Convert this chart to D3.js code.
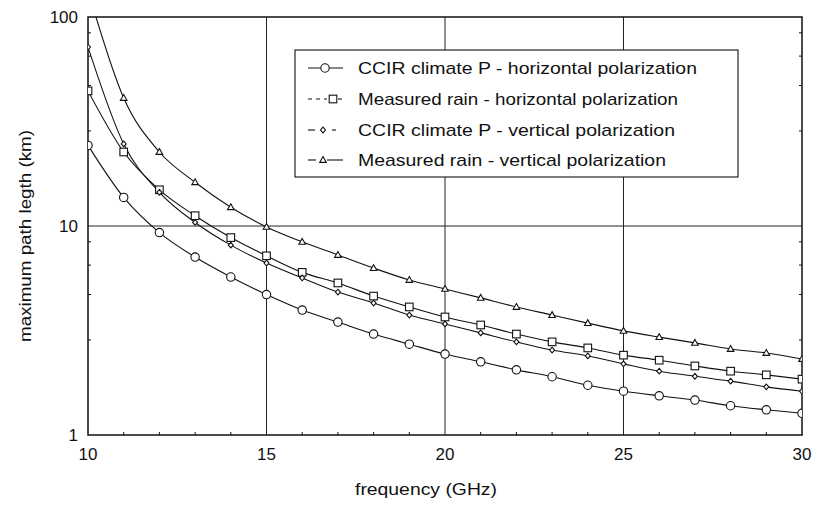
<!DOCTYPE html>
<html>
<head>
<meta charset="utf-8">
<script src="https://cdn.jsdelivr.net/npm/d3@7/dist/d3.min.js"></script>
<style>
  html, body { margin: 0; padding: 0; background: #fff; }
  text { font-family: "Liberation Sans", Arial, sans-serif; fill: #111; }
</style>
</head>
<body>
<svg id="chart" width="814" height="505"></svg>
<script>
// ---- data ----
const freq = [10,11,12,13,14,15,16,17,18,19,20,21,22,23,24,25,26,27,28,29,30];
const ccirH = [24.3,13.7,9.3,7.1,5.7,4.7,3.96,3.47,3.04,2.72,2.44,2.24,2.05,1.90,1.73,1.62,1.54,1.47,1.38,1.32,1.27];
const measH = [44.3,22.6,14.9,11.2,8.8,7.2,6.0,5.34,4.62,4.10,3.67,3.36,3.04,2.79,2.61,2.41,2.28,2.14,2.02,1.94,1.85];
const ccirV = [71.8,24.7,14.5,10.4,8.1,6.65,5.64,4.83,4.28,3.75,3.40,3.08,2.79,2.55,2.39,2.19,2.02,1.91,1.81,1.70,1.62];
const measV = [134,41,22.6,16.2,12.3,9.9,8.4,7.27,6.29,5.52,5.0,4.53,4.10,3.75,3.43,3.15,2.94,2.76,2.58,2.47,2.31];
const seriesNames = [
  "CCIR climate P - horizontal polarization",
  "Measured rain - horizontal polarization",
  "CCIR climate P - vertical polarization",
  "Measured rain - vertical polarization"
];
const xTicks = [10,15,20,25,30];
const xMinor = [11,12,13,14,16,17,18,19,21,22,23,24,26,27,28,29];
const yTicks = [1,10,100];
const yTickLabels = ["1","10","100"];
const yMinor = [2.85,4.7,6.5,8.4,28.5,47,65,84];
const xGrid = [15,20,25];
const yGrid = [10];
const xTitle = "frequency (GHz)";
const yTitle = "maximum path legth (km)";

// ---- layout ----
const svg = d3.select("#chart");
const L = 88, R = 802, T = 17, B = 435;
const x = d3.scaleLinear().domain([10,30]).range([L,R]);
const y = d3.scaleLog().domain([1,100]).range([B,T]);

svg.append("defs").append("clipPath").attr("id","clip")
  .append("rect").attr("x",L).attr("y",T).attr("width",R-L).attr("height",B-T);

// grid
svg.append("g").selectAll("line").data(xGrid).join("line")
  .attr("x1",d=>x(d)).attr("x2",d=>x(d)).attr("y1",T).attr("y2",B)
  .attr("stroke","#222").attr("stroke-width",1);
svg.append("g").selectAll("line").data(yGrid).join("line")
  .attr("x1",L).attr("x2",R).attr("y1",d=>y(d)).attr("y2",d=>y(d))
  .attr("stroke","#222").attr("stroke-width",1);

// minor ticks
svg.append("g").selectAll("line").data(xMinor).join("line")
  .attr("x1",d=>x(d)).attr("x2",d=>x(d)).attr("y1",B).attr("y2",B-3)
  .attr("stroke","#111").attr("stroke-width",1);
const ym = svg.append("g");
ym.selectAll("line.l").data(yMinor).join("line").attr("class","l")
  .attr("x1",L).attr("x2",L+3).attr("y1",d=>y(d)).attr("y2",d=>y(d))
  .attr("stroke","#111").attr("stroke-width",1);
ym.selectAll("line.r").data(yMinor).join("line").attr("class","r")
  .attr("x1",R-3).attr("x2",R).attr("y1",d=>y(d)).attr("y2",d=>y(d))
  .attr("stroke","#111").attr("stroke-width",1);

// frame
svg.append("rect").attr("x",L).attr("y",T).attr("width",R-L).attr("height",B-T)
  .attr("fill","none").attr("stroke","#111").attr("stroke-width",1.5);

// tick labels
svg.append("g").selectAll("text").data(xTicks).join("text")
  .attr("x",d=>x(d)).attr("y",460).attr("text-anchor","middle")
  .attr("font-size",17).text(d=>d);
svg.append("g").selectAll("text").data(yTicks).join("text")
  .attr("x",78).attr("y",d=>y(d)).attr("dy","0.36em").attr("text-anchor","end")
  .attr("font-size",17).text((d,i)=>yTickLabels[i]);

// axis titles
svg.append("text").attr("x",426).attr("y",495).attr("text-anchor","middle")
  .attr("font-size",17).attr("textLength",142).attr("lengthAdjust","spacingAndGlyphs")
  .text(xTitle);
svg.append("text").attr("transform","translate(31,236) rotate(-90)")
  .attr("text-anchor","middle").attr("font-size",17)
  .attr("textLength",212).attr("lengthAdjust","spacingAndGlyphs")
  .text(yTitle);

// series
const allSeries = [ccirH, measH, ccirV, measV];
const markers = ["circle","square","diamond","triangle"];
const line = d3.line().x((d,i)=>x(freq[i])).y(d=>y(d)).curve(d3.curveMonotoneX);
const plot = svg.append("g").attr("clip-path","url(#clip)");

function drawMarker(g, type, cx, cy) {
  if (type === "circle") {
    g.append("circle").attr("cx",cx).attr("cy",cy).attr("r",4.2)
      .attr("fill","#fff").attr("stroke","#111").attr("stroke-width",1.1);
  } else if (type === "square") {
    g.append("rect").attr("x",cx-3.8).attr("y",cy-3.8).attr("width",7.6).attr("height",7.6)
      .attr("fill","#fff").attr("stroke","#111").attr("stroke-width",1.1);
  } else if (type === "diamond") {
    g.append("path").attr("d",`M${cx},${cy-2.8}L${cx+2.5},${cy}L${cx},${cy+2.8}L${cx-2.5},${cy}Z`)
      .attr("fill","#fff").attr("stroke","#111").attr("stroke-width",1.1);
  } else {
    g.append("path").attr("d",`M${cx},${cy-3.4}L${cx+3.3},${cy+2.4}L${cx-3.3},${cy+2.4}Z`)
      .attr("fill","#fff").attr("stroke","#111").attr("stroke-width",1.1);
  }
}

allSeries.forEach((vals, si) => {
  plot.append("path").datum(vals).attr("d",line)
    .attr("fill","none").attr("stroke","#111").attr("stroke-width",1.1);
});
allSeries.forEach((vals, si) => {
  const g = plot.append("g");
  vals.forEach((v,i) => {
    if (v <= 100) drawMarker(g, markers[si], x(freq[i]), y(v));
  });
});

// legend
const lg = svg.append("g");
lg.append("rect").attr("x",295).attr("y",50).attr("width",443).attr("height",127)
  .attr("fill","#fff").attr("stroke","#111").attr("stroke-width",1.1);
const rowY = [68, 99, 130, 160];
const textLens = [339, 320, 317, 308];
const sampleX = [325, 333, 323, 323];
const dashes = [null, "4,3", "6,20", null];
seriesNames.forEach((name, i) => {
  const yy = rowY[i];
  if (i === 0) {
    lg.append("line").attr("x1",308).attr("x2",343).attr("y1",yy).attr("y2",yy).attr("stroke","#111").attr("stroke-width",1.1);
  } else if (i === 1) {
    lg.append("line").attr("x1",308).attr("x2",327).attr("y1",yy).attr("y2",yy).attr("stroke","#111").attr("stroke-width",1.1).attr("stroke-dasharray","4,4");
    lg.append("line").attr("x1",338).attr("x2",342).attr("y1",yy).attr("y2",yy).attr("stroke","#111").attr("stroke-width",1.1);
  } else if (i === 2) {
    lg.append("line").attr("x1",308).attr("x2",315).attr("y1",yy).attr("y2",yy).attr("stroke","#111").attr("stroke-width",1.1);
    lg.append("line").attr("x1",332).attr("x2",336).attr("y1",yy).attr("y2",yy).attr("stroke","#111").attr("stroke-width",1.1);
  } else {
    lg.append("line").attr("x1",308).attr("x2",316).attr("y1",yy).attr("y2",yy).attr("stroke","#111").attr("stroke-width",1.1);
    lg.append("line").attr("x1",327).attr("x2",343).attr("y1",yy).attr("y2",yy).attr("stroke","#111").attr("stroke-width",1.1);
  }
  drawMarker(lg, markers[i], sampleX[i], yy);
  lg.append("text").attr("x",358).attr("y",yy).attr("dy","0.36em")
    .attr("font-size",17).attr("textLength",textLens[i]).attr("lengthAdjust","spacingAndGlyphs")
    .text(name);
});
</script>
</body>
</html>
